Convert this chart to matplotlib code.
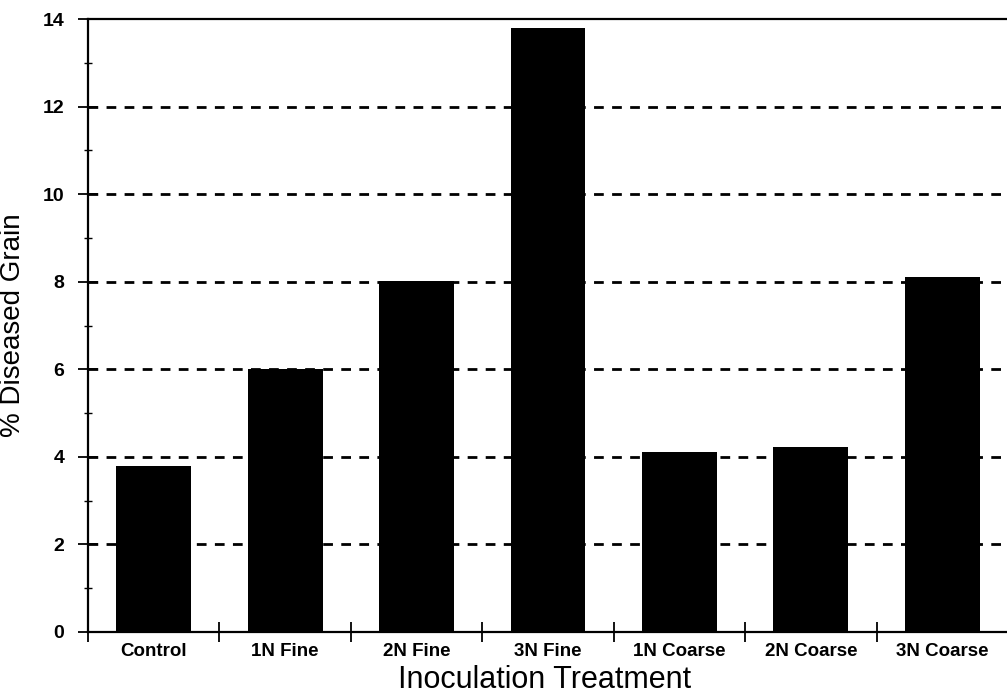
import numpy as np
import matplotlib.pyplot as plt
from matplotlib.ticker import MultipleLocator

treatments = ["Control", "1N Fine", "2N Fine", "3N Fine", "1N Coarse", "2N Coarse", "3N Coarse"]
diseased = [3.8, 6.0, 8.02, 13.8, 4.1, 4.22, 8.1]

plt.rcParams['font.family'] = ['Liberation Sans', 'DejaVu Sans']

fig = plt.figure(figsize=(10.07, 6.94), dpi=100)
ax = fig.add_axes([88 / 1007, 1 - 632 / 694, 920 / 1007, (632 - 19) / 694])

x = np.arange(len(treatments))
ax.bar(x, diseased, width=0.57, color="black", zorder=3)

ax.set_xlim(-0.5, len(treatments) - 0.5)
ax.set_ylim(0, 14)

ax.yaxis.set_major_locator(MultipleLocator(2))
ax.yaxis.set_minor_locator(MultipleLocator(1))
for t in np.arange(2, 14, 2):
    ax.axhline(t, color="black", lw=2.0, ls=(0, (3.5, 3)), zorder=1)

ax.set_xticks(np.arange(-0.5, len(treatments) - 0.4, 1))
ax.set_xticks(x, minor=True)
ax.set_xticklabels([])
ax.set_xticklabels(treatments, minor=True, fontsize=13.5, fontweight="bold")
ax.tick_params(axis="x", which="major", direction="inout", length=14, width=1.3)
ax.tick_params(axis="x", which="minor", length=0, pad=8)
ax.tick_params(axis="y", which="major", direction="inout", length=14, width=1.3,
               labelsize=14, pad=10)
ax.tick_params(axis="y", which="minor", direction="inout", length=6, width=1.0)
for lab in ax.get_yticklabels():
    lab.set_fontweight("bold")

for side in ["left", "bottom", "top"]:
    ax.spines[side].set_linewidth(1.6)
ax.spines["right"].set_visible(False)

ax.set_ylabel("% Diseased Grain", fontsize=20, labelpad=12)
ax.set_xlabel("Inoculation Treatment", fontsize=22, va="center")
ax.xaxis.set_label_coords(457 / 920, (632 - 680) / 613)

fig.savefig("out.png", dpi=100)
